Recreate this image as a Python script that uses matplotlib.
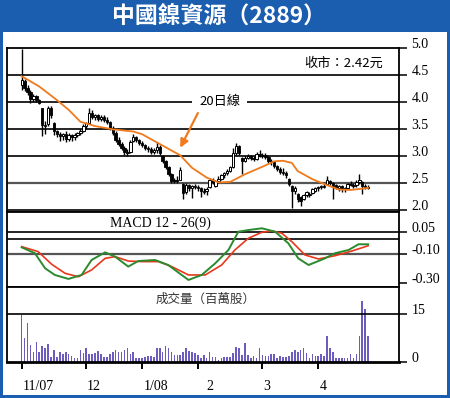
import numpy as np
import matplotlib
matplotlib.use('Agg')
import matplotlib.pyplot as plt
from matplotlib.patches import Rectangle

# daily OHLC, 11/2007 - 4/2008
opens = [4.30, 4.38, 4.25, 4.18, 4.05, 4.10, 4.03, 3.88, 3.57, 3.58,
         3.88, 3.60, 3.45, 3.40, 3.36, 3.40, 3.32, 3.38, 3.34, 3.38,
         3.42, 3.46, 3.55, 3.60, 3.80, 3.72, 3.75, 3.68, 3.72, 3.66,
         3.62, 3.52, 3.42, 3.30, 3.22, 3.15, 3.08, 3.08, 3.28, 3.34,
         3.30, 3.24, 3.20, 3.14, 3.12, 3.08, 3.10, 3.16, 3.00, 2.90,
         2.80, 2.66, 2.54, 2.56, 2.56, 2.48, 2.34, 2.46, 2.40, 2.44,
         2.42, 2.40, 2.36, 2.36, 2.42, 2.56, 2.44, 2.54, 2.58, 2.64,
         2.68, 2.72, 2.80, 3.06, 3.18, 2.96, 2.90, 2.96, 3.00, 2.96,
         2.94, 3.04, 3.00, 3.02, 2.98, 2.90, 2.88, 2.82, 2.76, 2.70,
         2.68, 2.58, 2.44, 2.36, 2.30, 2.24, 2.20, 2.28, 2.30, 2.32,
         2.36, 2.40, 2.42, 2.44, 2.48, 2.54, 2.50, 2.46, 2.40, 2.44,
         2.38, 2.40, 2.48, 2.46, 2.46, 2.52, 2.52, 2.44, 2.40]
highs = [4.97, 4.42, 4.30, 4.22, 4.15, 4.12, 4.05, 3.88, 3.65, 3.92,
         3.92, 3.62, 3.48, 3.44, 3.42, 3.45, 3.42, 3.40, 3.42, 3.44,
         3.50, 3.58, 3.62, 3.88, 3.85, 3.78, 3.77, 3.75, 3.76, 3.72,
         3.64, 3.55, 3.45, 3.34, 3.26, 3.18, 3.12, 3.30, 3.40, 3.36,
         3.32, 3.28, 3.22, 3.18, 3.16, 3.14, 3.26, 3.20, 3.02, 2.92,
         2.82, 2.68, 2.60, 2.62, 2.80, 2.50, 2.50, 2.48, 2.47, 2.48,
         2.46, 2.42, 2.40, 2.42, 2.60, 2.60, 2.56, 2.62, 2.66, 2.70,
         2.76, 2.82, 3.14, 3.24, 3.20, 2.98, 3.00, 3.04, 3.02, 3.00,
         3.08, 3.10, 3.06, 3.06, 3.00, 2.94, 2.90, 2.84, 2.80, 2.78,
         2.72, 2.60, 2.46, 2.44, 2.32, 2.26, 2.30, 2.36, 2.34, 2.40,
         2.42, 2.44, 2.46, 2.48, 2.62, 2.56, 2.52, 2.48, 2.46, 2.46,
         2.42, 2.50, 2.54, 2.50, 2.56, 2.66, 2.54, 2.48, 2.46]
lows = [4.22, 4.20, 4.12, 3.98, 4.00, 4.00, 3.95, 3.36, 3.40, 3.55,
        3.70, 3.38, 3.35, 3.28, 3.30, 3.25, 3.28, 3.28, 3.30, 3.34,
        3.38, 3.44, 3.50, 3.58, 3.68, 3.66, 3.65, 3.64, 3.62, 3.58,
        3.48, 3.38, 3.25, 3.18, 3.10, 3.02, 3.00, 3.06, 3.26, 3.26,
        3.20, 3.16, 3.10, 3.08, 3.04, 3.04, 3.05, 3.02, 2.86, 2.76,
        2.62, 2.50, 2.50, 2.50, 2.55, 2.20, 2.30, 2.36, 2.22, 2.38,
        2.36, 2.24, 2.30, 2.28, 2.40, 2.48, 2.42, 2.50, 2.56, 2.60,
        2.64, 2.70, 2.78, 3.02, 3.02, 2.66, 2.88, 2.94, 2.92, 2.90,
        2.92, 2.98, 2.96, 2.94, 2.86, 2.84, 2.78, 2.72, 2.66, 2.64,
        2.60, 2.44, 2.04, 2.30, 2.14, 2.08, 2.18, 2.24, 2.24, 2.30,
        2.34, 2.36, 2.38, 2.40, 2.46, 2.46, 2.20, 2.38, 2.36, 2.34,
        2.34, 2.38, 2.44, 2.40, 2.42, 2.48, 2.30, 2.38, 2.38]
closes = [4.40, 4.25, 4.18, 4.05, 4.10, 4.03, 3.98, 3.57, 3.55, 3.88,
          3.75, 3.45, 3.40, 3.36, 3.40, 3.32, 3.38, 3.34, 3.38, 3.42,
          3.46, 3.55, 3.60, 3.80, 3.72, 3.75, 3.68, 3.72, 3.66, 3.62,
          3.52, 3.42, 3.30, 3.22, 3.15, 3.08, 3.05, 3.26, 3.34, 3.30,
          3.24, 3.20, 3.14, 3.12, 3.08, 3.10, 3.16, 3.06, 2.90, 2.80,
          2.66, 2.54, 2.56, 2.54, 2.74, 2.32, 2.46, 2.40, 2.44, 2.42,
          2.40, 2.36, 2.34, 2.38, 2.56, 2.52, 2.54, 2.58, 2.64, 2.68,
          2.72, 2.80, 3.06, 3.18, 3.06, 2.90, 2.96, 3.00, 2.96, 2.94,
          3.04, 3.00, 3.02, 2.98, 2.90, 2.88, 2.82, 2.76, 2.70, 2.68,
          2.64, 2.48, 2.36, 2.40, 2.20, 2.16, 2.28, 2.34, 2.28, 2.38,
          2.40, 2.42, 2.44, 2.42, 2.56, 2.50, 2.44, 2.40, 2.44, 2.38,
          2.40, 2.48, 2.46, 2.44, 2.52, 2.56, 2.44, 2.40, 2.42]

# volume (million shares)
volume = [14.6, 7.6, 12.2, 5.3, 3.0, 6.3, 3.0, 5.0, 4.2, 5.7,
          1.6, 3.7, 1.4, 3.0, 2.5, 3.0, 2.3, 1.8, 1.2, 1.3,
          3.7, 2.6, 4.4, 2.5, 2.5, 2.8, 3.4, 2.3, 1.6, 1.6,
          2.3, 3.0, 3.7, 3.2, 3.0, 3.7, 4.4, 2.3, 3.0, 1.2,
          1.2, 1.2, 1.4, 1.8, 1.8, 1.6, 4.4, 4.2, 3.0, 5.0,
          4.4, 3.0, 2.0, 2.0, 2.0, 3.0, 4.4, 3.4, 3.0, 2.6,
          2.1, 1.1, 2.0, 1.1, 3.2, 1.4, 1.4, 0.6, 1.1, 1.6,
          1.6, 1.6, 2.6, 4.7, 4.4, 2.1, 5.8, 2.1, 1.1, 1.8,
          1.1, 4.2, 2.1, 1.9, 1.9, 2.3, 2.3, 1.3, 1.8, 1.4,
          1.4, 1.8, 3.2, 3.6, 3.2, 3.6, 4.2, 2.6, 1.3, 2.3,
          1.8, 1.9, 2.4, 1.8, 8.2, 4.2, 3.2, 1.3, 1.3, 1.1,
          1.1, 1.3, 2.5, 1.3, 2.5, 8.2, 19.3, 16.7, 8.2]

# 20-day moving average, read at these trading days
ma_day = [0, 6, 12, 16, 20, 25, 31, 38, 41, 47, 54, 58, 63, 67, 71,
          76, 82, 86, 89, 92, 94, 99, 104, 108, 112, 118]
ma_val = [4.47, 4.28, 4.03, 3.85, 3.63, 3.55, 3.49, 3.45, 3.40, 3.22,
          3.01, 2.78, 2.60, 2.51, 2.52, 2.66, 2.80, 2.90, 2.91, 2.87,
          2.72, 2.57, 2.46, 2.38, 2.37, 2.41]

# MACD 12-26(9)
dif_day = [0, 4.5, 8, 11.3, 15.9, 20.4, 23.8, 28.4, 31.8, 36.3, 39.7, 45.4,
           49.9, 53.4, 56.8, 61.3, 65.9, 70.4, 73.8, 77.2, 81.8, 86.3, 90.8,
           94.2, 97.7, 103.3, 106.7, 111.3, 114.7, 118]
dif_val = [-0.055, -0.095, -0.198, -0.243, -0.27, -0.243, -0.141, -0.089,
           -0.118, -0.186, -0.148, -0.141, -0.175, -0.227, -0.277, -0.243,
           -0.164, -0.073, 0.052, 0.063, 0.075, 0.052, -0.027, -0.13, -0.175,
           -0.13, -0.095, -0.073, -0.034, -0.034]
dea_day = [0, 5.6, 10.2, 14.8, 19.3, 23.8, 28.4, 31.8, 36.3, 40.9, 46.6, 51.1,
           56.8, 62.5, 68.1, 72.6, 77.2, 81.8, 85.2, 88.6, 92, 96.5, 101.1,
           106.7, 112.4, 118]
dea_val = [-0.05, -0.084, -0.17, -0.232, -0.255, -0.209, -0.13, -0.118,
           -0.148, -0.152, -0.152, -0.186, -0.243, -0.243, -0.175, -0.073,
           0.007, 0.048, 0.057, 0.041, -0.016, -0.107, -0.134, -0.112, -0.08,
           -0.044]

month_pos = [0, 22, 41, 60, 82, 101]
month_lbl_pos = [0.4, 22.2, 41.4, 63, 82.2, 101.4]
month_lbl = ['11/07', '12', '1/08', '2', '3', '4']

blue = '#1b5dae'
cjk = ['Noto Sans CJK TC', 'DejaVu Sans']
serif = 'Liberation Serif'

W, H = 450, 398
fig = plt.figure(figsize=(4.5, 3.98), dpi=100, facecolor=blue)
fig.patches.append(Rectangle((2.5 / W, 3 / H), 444 / W, (395 - 31.7) / H,
                             transform=fig.transFigure, facecolor='white',
                             edgecolor='none', zorder=-10))
fig.text(219 / W, 1 - 17 / H, '中國鎳資源（2889）', color='white', fontsize=16.5,
         fontweight='heavy', family=cjk, ha='center', va='center')


def add_panel(top, bottom):
    ax = fig.add_axes([7.3 / W, (H - bottom) / H, (399 - 7.3) / W, (bottom - top) / H])
    ax.set_xlim(-4.9, 128.5)
    for s in ax.spines.values():
        s.set_linewidth(1.3)
    ax.yaxis.tick_right()
    ax.tick_params(axis='y', direction='out', length=6, width=1.1, pad=3,
                   labelsize=10)
    ax.set_xticks([])
    return ax


n = len(closes)
x = np.arange(n)

# ---- price panel
ax1 = add_panel(47.5, 211.7)
ax1.set_ylim(1.97, 5.0)
ax1.set_yticks([5.0, 4.5, 4.0, 3.5, 3.0, 2.5, 2.0])
ax1.set_yticklabels(['5.0', '4.5', '4.0', '3.5', '3.0', '2.5', '2.0'],
                    family=serif, va='baseline')
for lv in [4.5, 4.0, 3.5, 3.0, 2.0]:
    ax1.axhline(lv, color='black', lw=1.2, zorder=1)
ax1.axhline(2.5, color='#555555', lw=1.6, zorder=1)

o = np.array(opens)
c = np.array(closes)
ax1.vlines(x, lows, highs, color='black', lw=1.0, zorder=3)
up = c >= o
body_h = np.maximum(np.abs(c - o), 0.02)
ax1.bar(x[~up], body_h[~up], bottom=np.minimum(o, c)[~up], width=0.8,
        color='black', edgecolor='black', lw=0.6, zorder=4)
ax1.bar(x[up], body_h[up], bottom=np.minimum(o, c)[up], width=0.8,
        color='white', edgecolor='black', lw=0.7, zorder=4)
ax1.plot(ma_day, ma_val, color='#f07a1c', lw=1.3, zorder=5)

ax1.text((383 - 7.3) / 391.7, 1 - (63 - 47.5) / 164.2, '收市：2.42元',
         transform=ax1.transAxes, ha='right', va='center', fontsize=9.5,
         family=cjk)
ax1.text(67.5, 4.0, '20日線', ha='center', va='center', fontsize=9.5,
         family=cjk, zorder=6,
         bbox=dict(facecolor='white', edgecolor='none', pad=5))
ax1.annotate('', xy=(54, 3.15), xytext=(60, 3.79),
             arrowprops=dict(arrowstyle='-|>', color='#f07a1c', lw=1.6,
                             mutation_scale=12, shrinkA=0, shrinkB=0),
             zorder=6)

# ---- MACD panel
ax2 = add_panel(211.7, 287)
ax2.set_ylim(-0.325, 0.188)
ax2.set_yticks([0.05, -0.10, -0.30])
ax2.set_yticklabels(['0.05', '-0.10', '-0.30'], family=serif, va='baseline')
ax2.axhline(0.05, color='black', lw=1.2)
ax2.axhline(0.0, color='black', lw=1.2)
ax2.axhline(-0.10, color='#555555', lw=1.6)
ax2.plot(dea_day, dea_val, color='#e8381c', lw=1.2)
ax2.plot(dif_day, dif_val, color='#2a8a2e', lw=1.4)
ax2.text(0.39, 0.85, 'MACD 12 - 26(9)', transform=ax2.transAxes,
         ha='center', va='center', fontsize=10, family=serif)

# ---- volume panel
ax3 = add_panel(287, 361.7)
ax3.set_ylim(0, 23.6)
ax3.set_yticks([15, 0])
ax3.set_yticklabels(['15', '0'], family=serif, va='baseline')
ax3.axhline(15, color='black', lw=1.2)
ax3.bar(x, volume, width=0.55, color='#6c5cc0', edgecolor='none')
ax3.spines['bottom'].set_linewidth(2)
ax3.set_xticks(month_pos)
ax3.set_xticklabels([''] * len(month_pos))
ax3.tick_params(axis='x', direction='out', length=5, width=1.4)
ax3.text(0.506, 0.83, '成交量（百萬股）', transform=ax3.transAxes,
         ha='center', va='center', fontsize=9, family=cjk, color='#333333')
for p, t in zip(month_lbl_pos, month_lbl):
    ax3.text(p, -7.7, t, ha='left', va='center', fontsize=10, family=serif,
             clip_on=False)

fig.savefig('out.png', dpi=100, facecolor=blue)
